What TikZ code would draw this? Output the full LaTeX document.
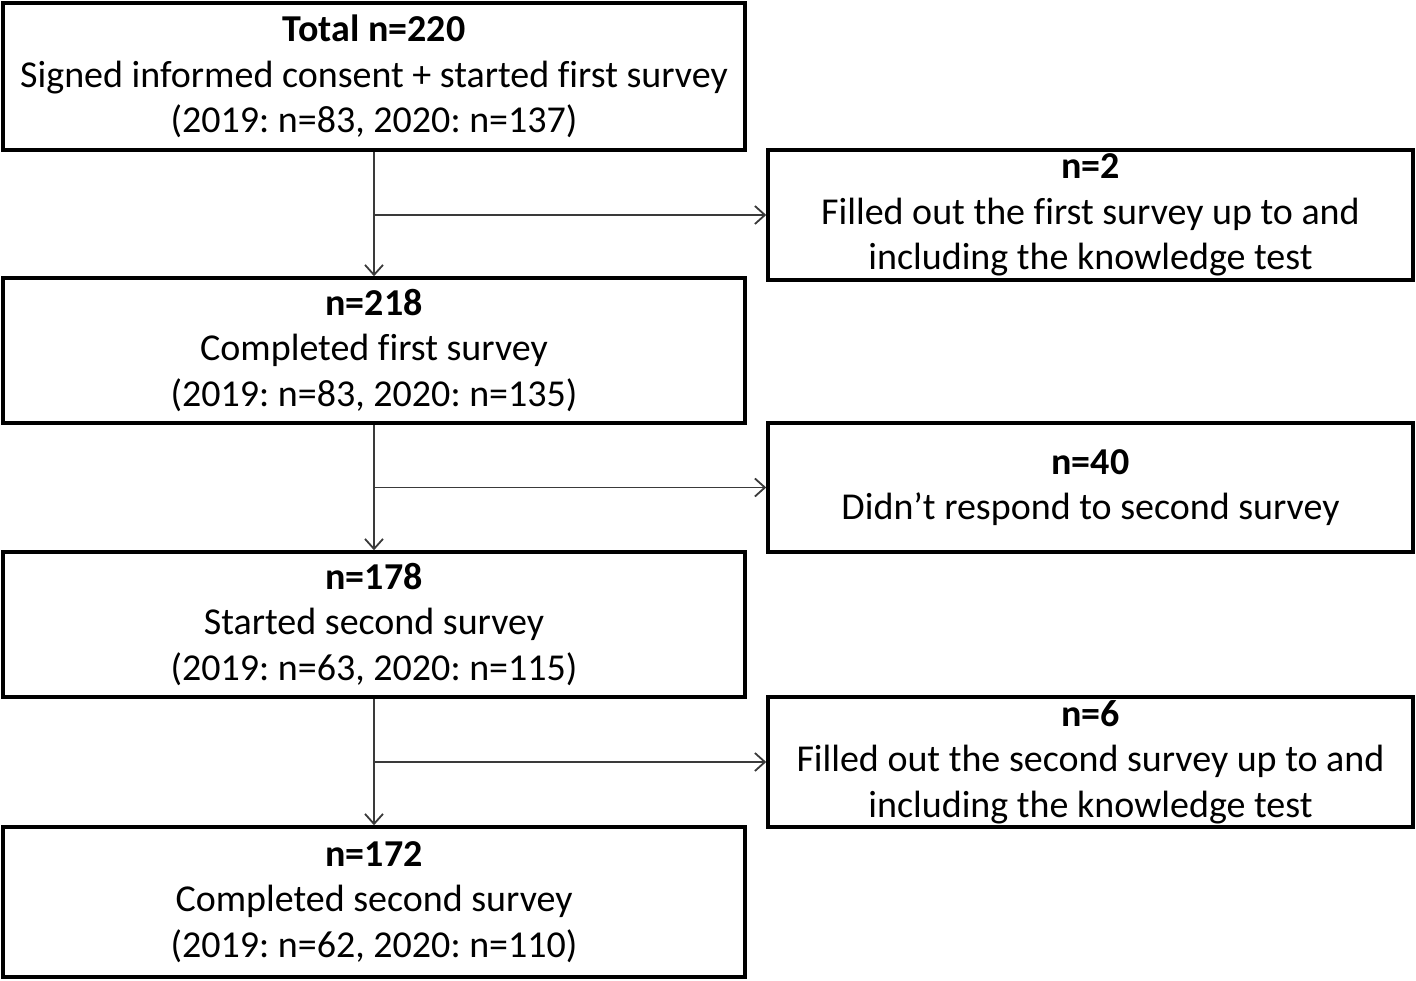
\documentclass[tikz,border=0pt]{standalone}
\usepackage{fontspec}
\setmainfont{Carlito}[Ligatures=NoCommon]
\usetikzlibrary{arrows.meta}
\definecolor{linegray}{HTML}{3A3A3A}
\frenchspacing
\tikzset{
  box/.style={draw=black, line width=3.5pt, inner sep=0pt, align=center,
    font=\fontsize{38}{45.5}\selectfont\frenchspacing},
  lbox/.style={box, minimum width=742pt},
  rbox/.style={box, minimum width=645pt},
  arr/.style={draw=linegray, line width=1.8pt,
    -{Straight Barb[length=10pt,width=18pt,line width=1.8pt]}}
}
\begin{document}
\begin{tikzpicture}[x=1pt,y=-1pt]
\useasboundingbox (0,0) rectangle (1416,980);
\node[lbox, minimum height=147pt] (b1) at (374,76.5)
  {\textbf{Total n=220}\\Signed informed consent + started first survey\\(2019: n=83, 2020: n=137)};
\node[rbox, minimum height=130pt] (b2) at (1090.5,215)
  {\textbf{n=2}\\Filled out the first survey up to and\\including the knowledge test};
\node[lbox, minimum height=145pt] (b3) at (374,350.5)
  {\textbf{n=218}\\Completed first survey\\(2019: n=83, 2020: n=135)};
\node[rbox, minimum height=129pt] (b4) at (1090.5,487.5)
  {\textbf{n=40}\\Didn’t respond to second survey};
\node[lbox, minimum height=145pt] (b5) at (374,624.5)
  {\textbf{n=178}\\Started second survey\\(2019: n=63, 2020: n=115)};
\node[rbox, minimum height=130pt] (b6) at (1090.5,762)
  {\textbf{n=6}\\Filled out the second survey up to and\\including the knowledge test};
\node[lbox, minimum height=150pt] (b7) at (374,902)
  {\textbf{n=172}\\Completed second survey\\(2019: n=62, 2020: n=110)};
\coordinate (j1) at (b1.south |- b2.west);
\coordinate (j2) at (b3.south |- b4.west);
\coordinate (j3) at (b5.south |- b6.west);
\draw[arr] (b1.south) -- (b3.north);
\draw[arr] (b3.south) -- (b5.north);
\draw[arr] (b5.south) -- (b7.north);
\draw[arr] (j1) -- (b2.west);
\draw[arr] (j2) -- (b4.west);
\draw[arr] (j3) -- (b6.west);
\end{tikzpicture}
\end{document}
